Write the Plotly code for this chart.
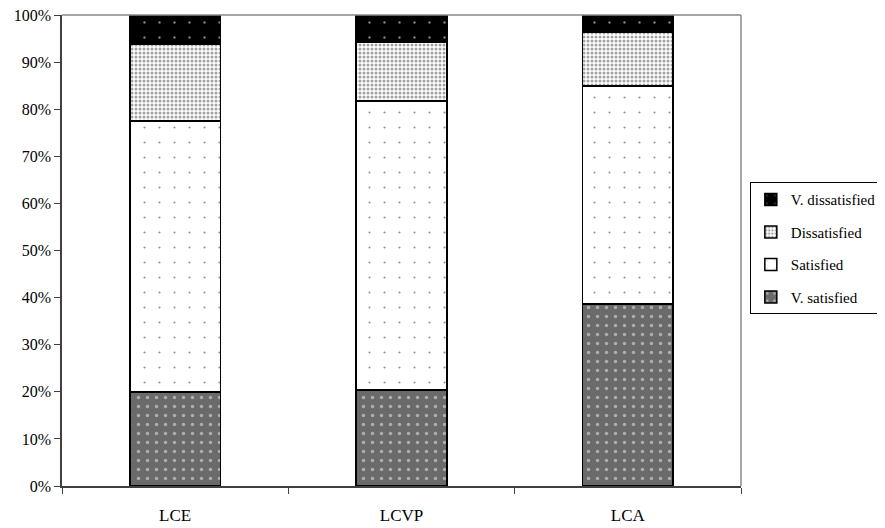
import plotly.graph_objects as go

categories = ["LCE", "LCVP", "LCA"]
v_satisfied = [20.0, 20.4, 38.6]
satisfied = [57.5, 61.3, 46.3]
dissatisfied = [16.3, 12.6, 11.5]
v_dissatisfied = [6.2, 5.7, 3.6]
y_ticks = [0, 10, 20, 30, 40, 50, 60, 70, 80, 90, 100]
y_tick_labels = [f"{v}%" for v in y_ticks]

FONT = "Liberation Serif"

series = [
    ("V. satisfied", v_satisfied, 4, dict(shape=".", bgcolor="#6a6a6a", fgcolor="#f0f0f0", size=9, solidity=0.12)),
    ("Satisfied", satisfied, 3, dict(shape=".", bgcolor="white", fgcolor="#222222", size=15, solidity=0.015)),
    ("Dissatisfied", dissatisfied, 2, dict(shape=".", bgcolor="white", fgcolor="#444444", size=4, solidity=0.45)),
    ("V. dissatisfied", v_dissatisfied, 1, dict(shape=".", bgcolor="black", fgcolor="white", size=15, solidity=0.02)),
]

fig = go.Figure()
for name, vals, rank, pat in series:
    fig.add_trace(go.Bar(
        x=categories, y=vals, name=name, legendgroup=name, legendrank=rank,
        marker=dict(color=pat["bgcolor"], pattern=dict(fillmode="overlay", **pat),
                    line=dict(color="black", width=1.5)),
    ))

# page body adds an 8px offset; the figure is sized to the remaining window
fig.update_layout(
    width=877, height=520,
    barmode="stack", bargap=0.6,
    plot_bgcolor="white", paper_bgcolor="white",
    margin=dict(l=54, r=144, t=7, b=42, autoexpand=False),
    font=dict(family=FONT, size=17, color="black"),
    legend=dict(x=1.013, y=0.645, xanchor="left", yanchor="top",
                traceorder="grouped", tracegroupgap=10, itemwidth=30,
                bordercolor="black", borderwidth=1,
                font=dict(family=FONT, size=15, color="black"),
                bgcolor="white"),
    showlegend=True,
)
fig.update_yaxes(range=[0, 100], tickvals=y_ticks, ticktext=y_tick_labels, automargin=False,
                 ticklabeloverflow="allow",
                 showgrid=False, showline=True, linecolor="#404040", linewidth=1.5,
                 ticks="outside", ticklen=6, tickcolor="#404040", zeroline=False,
                 tickfont=dict(family=FONT, size=16))
fig.update_xaxes(showgrid=False, showline=True, linecolor="#404040", linewidth=1.5, automargin=False,
                 ticklabeloverflow="allow",
                 ticks="outside", ticklen=6, tickcolor="#404040", tickson="boundaries",
                 ticklabelstandoff=13, tickfont=dict(family=FONT, size=17))
# plot-area border top and right (gray)
fig.add_shape(type="line", xref="x domain", yref="y domain", x0=0, x1=1, y0=1, y1=1,
              line=dict(color="#8a8a8a", width=1.5))
fig.add_shape(type="line", xref="x domain", yref="y domain", x0=1, x1=1, y0=0, y1=1,
              line=dict(color="#8a8a8a", width=1.5))

fig.write_html("out.html")
